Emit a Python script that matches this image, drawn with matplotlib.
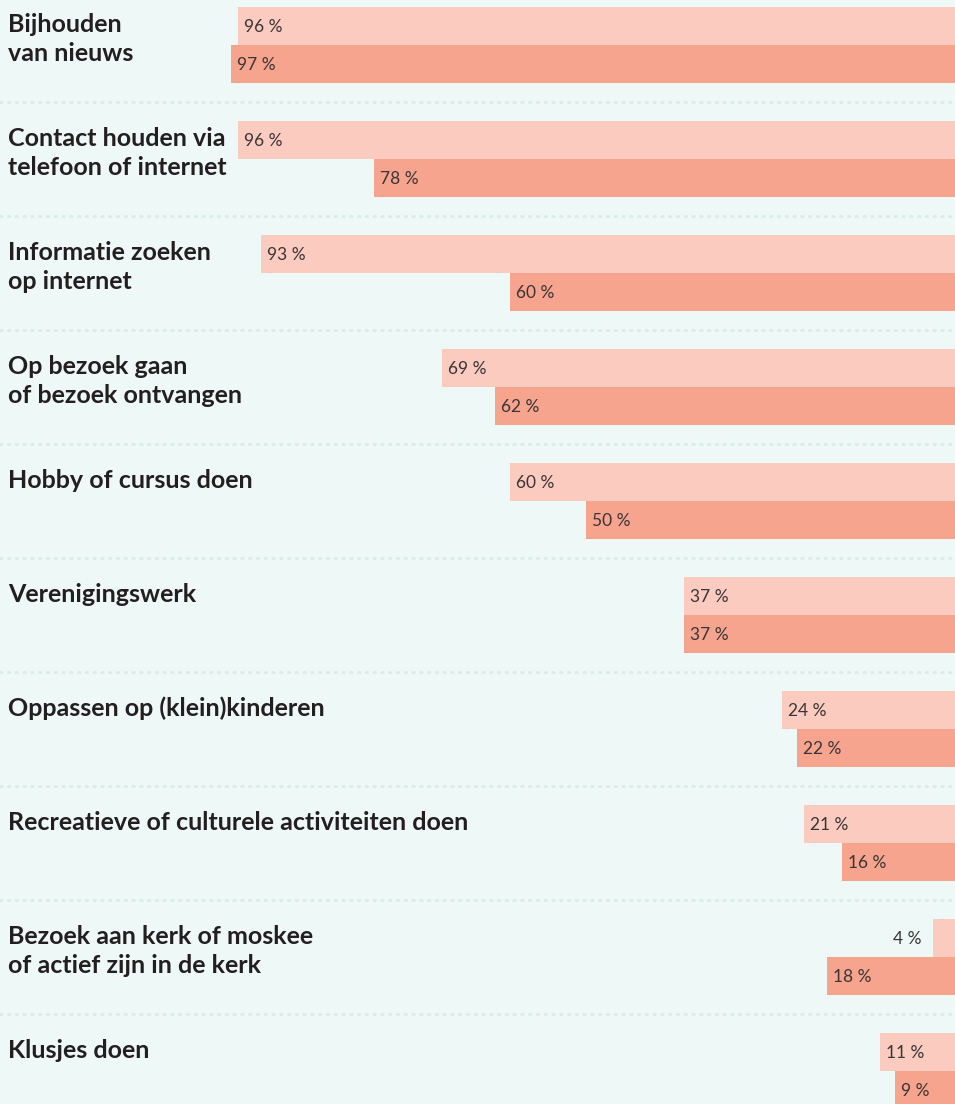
import matplotlib
matplotlib.use("Agg")
import matplotlib.pyplot as plt

categories = [
    "Bijhouden\nvan nieuws",
    "Contact houden via\ntelefoon of internet",
    "Informatie zoeken\nop internet",
    "Op bezoek gaan\nof bezoek ontvangen",
    "Hobby of cursus doen",
    "Verenigingswerk",
    "Oppassen op (klein)kinderen",
    "Recreatieve of culturele activiteiten doen",
    "Bezoek aan kerk of moskee\nof actief zijn in de kerk",
    "Klusjes doen",
]
series_light = [96, 96, 93, 69, 60, 37, 24, 21, 4, 11]
series_dark = [97, 78, 60, 62, 50, 37, 22, 16, 18, 9]

BG = "#eef8f6"
LIGHT = "#fbcbc0"
DARK = "#f7a48f"
TEXT = "#231f20"
VAL = "#3a3536"
SEP = "#d8ece8"

W, H = 955, 1104
ROW = 114.0
fig = plt.figure(figsize=(W / 100, H / 100), dpi=100, facecolor=BG)
ax = fig.add_axes([0, 0, 1, 1], facecolor=BG)

# x scale: 7.55 px per %, zero lies 8 px beyond the right edge
ppp = 7.55
x_right = 8 / ppp
x_left = x_right + W / ppp
ax.set_xlim(x_left, x_right)
ax.set_ylim(H / ROW, 0)
ax.axis("off")

bh = 38 / ROW
n = len(categories)
for i in range(n):
    yl = i + (7 + 19) / ROW
    yd = i + (45 + 19) / ROW
    ax.barh(yl, series_light[i], height=bh, left=0, color=LIGHT, linewidth=0)
    ax.barh(yd, series_dark[i], height=bh, left=0, color=DARK, linewidth=0)
    for v, yc in ((series_light[i], yl), (series_dark[i], yd)):
        w_px = v * ppp - 8
        if w_px > 45:
            ax.text(v - 6 / ppp, yc + 1 / ROW, f"{v} %", ha="left", va="center",
                    fontsize=12.5, color=VAL, family="Lato")
        else:
            ax.text(v + 11 / ppp, yc + 1 / ROW, f"{v} %", ha="right", va="center",
                    fontsize=12.5, color=VAL, family="Lato")
    for k, line in enumerate(categories[i].split("\n")):
        ax.text(x_left - 8 / ppp, i + (32 + 29 * k) / ROW, line, ha="left",
                va="baseline", fontsize=18, fontweight="bold", color=TEXT,
                family="Lato")
    if i < n - 1:
        ys = i + 102 / ROW
        ax.plot([x_left, x_right], [ys, ys], color=SEP, lw=2.0,
                linestyle=(0, (0.6, 2.2)), solid_capstyle="round",
                dash_capstyle="round")

fig.savefig("out.png", dpi=100, facecolor=BG)
